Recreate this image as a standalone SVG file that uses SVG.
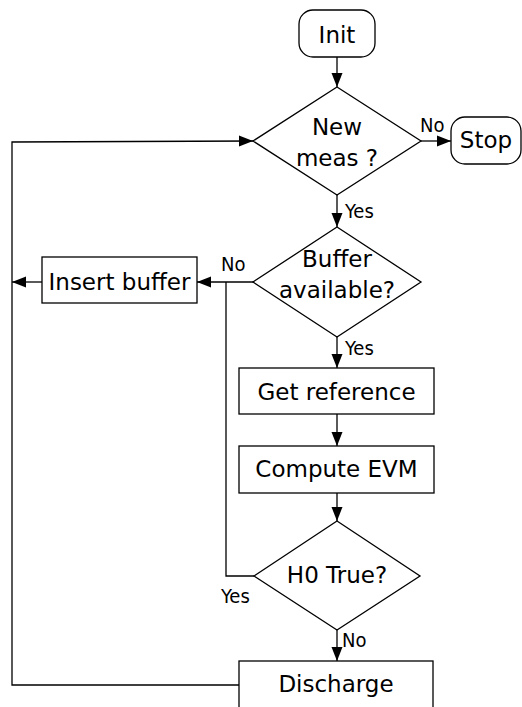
<svg xmlns="http://www.w3.org/2000/svg" width="522" height="707" viewBox="0 0 522 707">
<defs>
<marker id="ah" markerUnits="userSpaceOnUse" markerWidth="14" markerHeight="14" viewBox="0 0 14 14" refX="14" refY="7" orient="auto">
<path d="M0,1.5 L14,7 L0,12.5 Z" fill="#000"/>
</marker>
</defs>
<style>
.s{fill:#fff;stroke:#000;stroke-width:1.3}
.t{font-family:"DejaVu Sans",sans-serif;font-size:23px;text-anchor:middle;fill:#000}
.l{font-family:"DejaVu Sans Condensed","DejaVu Sans",sans-serif;font-size:20px;fill:#000}
.c{fill:none;stroke:#000;stroke-width:1.3}
</style>
<rect width="522" height="707" fill="#fff"/>
<g id="connectors">
<path class="c" d="M337,57 V87" marker-end="url(#ah)"/>
<path class="c" d="M421,141 H451" marker-end="url(#ah)"/>
<path class="c" d="M337,195 V227" marker-end="url(#ah)"/>
<path class="c" d="M253,282 H197" marker-end="url(#ah)"/>
<path class="c" d="M42,282 H12" marker-end="url(#ah)"/>
<path class="c" d="M337,337 V368" marker-end="url(#ah)"/>
<path class="c" d="M337,414 V446" marker-end="url(#ah)"/>
<path class="c" d="M337,493 V521" marker-end="url(#ah)"/>
<path class="c" d="M254,576 H226 V282"/>
<path class="c" d="M337,630 V661" marker-end="url(#ah)"/>
<path class="c" d="M239,685 H12 V142 L253,141" marker-end="url(#ah)"/>
<text class="l" x="420" y="132">No</text>
<text class="l" x="345" y="218">Yes</text>
<text class="l" x="221" y="271">No</text>
<text class="l" x="345" y="355">Yes</text>
<text class="l" x="221" y="603">Yes</text>
<text class="l" x="342" y="647">No</text>
</g>
<g id="init">
<rect class="s" x="299" y="10" width="76" height="47" rx="14"/>
<text class="t" x="337" y="43">Init</text>
</g>
<g id="newmeas">
<polygon class="s" points="337,87 421,141 337,195 253,141"/>
<text class="t" x="337" y="135">New</text>
<text class="t" x="337" y="166">meas ?</text>
</g>
<g id="stop">
<rect class="s" x="451" y="117" width="70" height="47" rx="14"/>
<text class="t" x="486" y="148">Stop</text>
</g>
<g id="buffer">
<polygon class="s" points="337,227 421,282 337,337 253,282"/>
<text class="t" x="337" y="267">Buffer</text>
<text class="t" x="337" y="298">available?</text>
</g>
<g id="insert">
<rect class="s" x="42" y="257" width="155" height="46"/>
<text class="t" x="119.5" y="290">Insert buffer</text>
</g>
<g id="getref">
<rect class="s" x="239" y="368" width="195" height="46"/>
<text class="t" x="336.5" y="400">Get reference</text>
</g>
<g id="evm">
<rect class="s" x="239" y="446" width="195" height="47"/>
<text class="t" x="336.5" y="477">Compute EVM</text>
</g>
<g id="h0">
<polygon class="s" points="337,521 420,576 337,630 254,576"/>
<text class="t" x="337" y="583">H0 True?</text>
</g>
<g id="discharge">
<rect class="s" x="239" y="661" width="194" height="60"/>
<text class="t" x="336" y="692">Discharge</text>
</g>
</svg>
